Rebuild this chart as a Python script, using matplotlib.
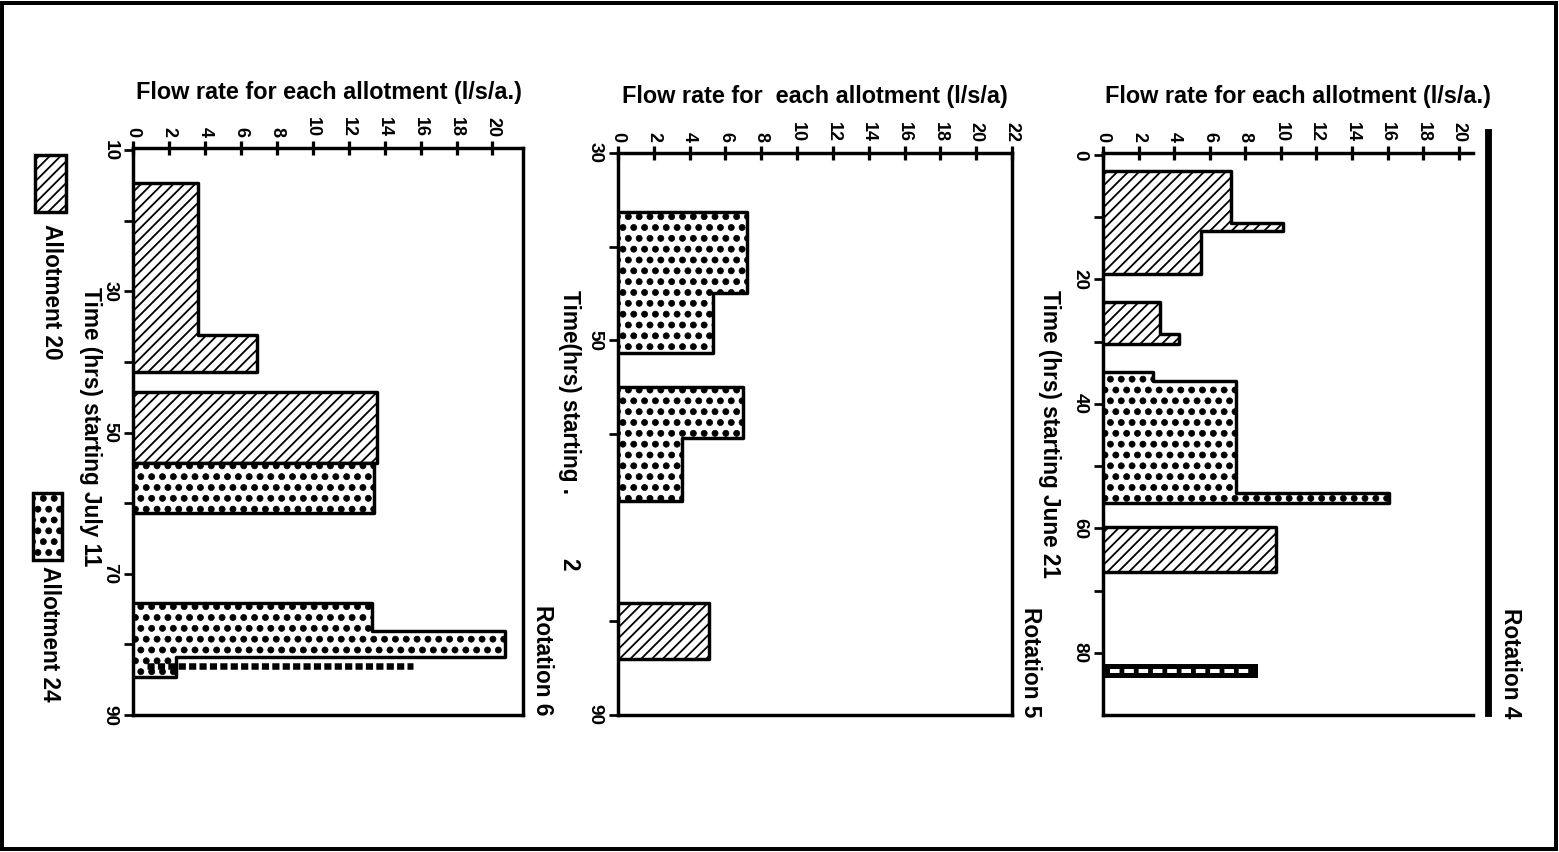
import matplotlib.pyplot as plt
import matplotlib.hatch as mhatch
from matplotlib.patches import Rectangle
from matplotlib.lines import Line2D

plt.rcParams['font.family'] = ['Liberation Sans', 'DejaVu Sans']
plt.rcParams['font.weight'] = 'bold'

# bigger solid dots for the '.' hatch, like the printed stipple
mhatch.SmallFilledCircles.size = 0.28

W, H, DPI = 1559, 852, 130

# Rotation 4 (time from June 21), blocks of step bars: time edges / flow per step
r4_a20_t = [[2.6, 10.9, 12.3, 19.2], [23.7, 28.8, 30.4], [59.8, 67.0]]
r4_a20_q = [[7.2, 10.1, 5.5], [3.2, 4.3], [9.7]]
r4_a24_t = [[34.9, 36.3, 54.4, 56.0]]
r4_a24_q = [[2.8, 7.5, 16.1]]
r4_dash_t = [82.9]
r4_dash_q = [8.7]

# Rotation 5
r5_a20_t = [[78.0, 84.0]]
r5_a20_q = [[5.1]]
r5_a24_t = [[36.3, 44.9, 51.3], [55.0, 60.4, 67.2]]
r5_a24_q = [[7.2, 5.3], [7.0, 3.6]]

# Rotation 6 (time from July 11)
r6_a20_t = [[14.7, 36.2, 41.4], [44.3, 54.3]]
r6_a20_q = [[3.6, 6.9], [13.6]]
r6_a24_t = [[54.3, 61.4], [74.2, 78.1, 81.8, 84.6]]
r6_a24_q = [[13.4], [13.3, 20.7, 2.4]]
r6_dash_t = 83.0
r6_dash_q = [0.8, 15.6]

flow_ticks_20 = list(range(0, 21, 2))
flow_ticks_22 = list(range(0, 23, 2))

HATCH_20 = '////'
HATCH_24 = '..'
HLW_20 = 1.0
HLW_24 = 0.4

fig = plt.figure(figsize=(W / DPI, H / DPI), dpi=DPI)


def px_axes(left, top, right, bottom):
    return fig.add_axes([left / W, 1 - bottom / H, (right - left) / W, (bottom - top) / H])


def fx(x):
    return x / W


def fy(y):
    return 1 - y / H


def setup(ax, xmax, xticks, ylim, yticks, ylabels):
    ax.set_xlim(0, xmax)
    ax.set_ylim(*ylim)
    ax.xaxis.tick_top()
    ax.set_xticks(xticks)
    ax.set_xticklabels([str(v) for v in xticks], rotation=-90, fontsize=10,
                       fontweight='bold')
    ax.tick_params(axis='x', direction='inout', length=8, width=1.8, pad=2)
    ax.set_yticks(yticks)
    ax.set_yticklabels(ylabels, rotation=-90, va='center', fontsize=10.5,
                       fontweight='bold')
    ax.tick_params(axis='y', direction='out', length=5, width=1.5, pad=3)
    for s in ax.spines.values():
        s.set_linewidth(1.9)


def set_hlw(artist, hlw):
    try:
        artist.set_hatch_linewidth(hlw)
    except AttributeError:
        pass


def draw_blocks(ax, ts, qs, hatch, hlw):
    for t, q in zip(ts, qs):
        poly = ax.fill_betweenx(t, 0, list(q) + [q[-1]], step='post',
                                facecolor='white', edgecolor='black',
                                linewidth=1.9, hatch=hatch, zorder=3)
        set_hlw(poly, hlw)


# ---- Rotation 6 ----
ax1 = px_axes(133, 148, 523, 715)
setup(ax1, 21.7, flow_ticks_20, (90, 9.7), [10, 20, 30, 40, 50, 60, 70, 80, 90],
      ['10', '', '30', '', '50', '', '70', '', '90'])
draw_blocks(ax1, r6_a20_t, r6_a20_q, HATCH_20, HLW_20)
draw_blocks(ax1, r6_a24_t, r6_a24_q, HATCH_24, HLW_24)
ax1.plot(r6_dash_q, [r6_dash_t, r6_dash_t], color='black', lw=3.6,
         linestyle=(0, (1.1, 0.5)), dash_capstyle='butt', zorder=4)

# ---- Rotation 5 ----
ax2 = px_axes(618, 153, 1012, 715)
setup(ax2, 22, flow_ticks_22, (90, 30), [30, 40, 50, 60, 80, 90],
      ['30', '', '50', '', '', '90'])
draw_blocks(ax2, r5_a24_t, r5_a24_q, HATCH_24, HLW_24)
draw_blocks(ax2, r5_a20_t, r5_a20_q, HATCH_20, HLW_20)

# ---- Rotation 4 ----
ax3 = px_axes(1103, 153, 1473, 715)
setup(ax3, 20.8, flow_ticks_20, (90, -0.3), [0, 10, 20, 30, 40, 50, 60, 70, 80],
      ['0', '', '20', '', '40', '', '60', '', '80'])
ax3.spines['right'].set_visible(False)
draw_blocks(ax3, r4_a20_t, r4_a20_q, HATCH_20, HLW_20)
draw_blocks(ax3, r4_a24_t, r4_a24_q, HATCH_24, HLW_24)
ax3.barh(r4_dash_t, r4_dash_q, height=2.2, color='black', zorder=3)
for t, q in zip(r4_dash_t, r4_dash_q):
    ax3.plot([0.4, q - 0.4], [t, t], color='white', lw=2.2,
             linestyle=(0, (2.4, 1.2)), zorder=4)
fig.add_artist(Line2D([fx(1488)] * 2, [fy(132), fy(713)], color='black', lw=3.8))

# ---- titles ----
title_kw = dict(fontsize=13, fontweight='bold', ha='center', va='center')
fig.text(fx(329), fy(92), 'Flow rate for each allotment (l/s/a.)', **title_kw)
fig.text(fx(815), fy(97), 'Flow rate for  each allotment (l/s/a)', **title_kw)
fig.text(fx(1298), fy(97), 'Flow rate for each allotment (l/s/a.)', **title_kw)

# ---- time labels ----
lab_kw = dict(rotation=-90, ha='center', va='top', fontsize=12.5, fontweight='bold')
fig.text(fx(90), fy(287), 'Time (hrs) starting July 11', **lab_kw)
fig.text(fx(570), fy(290), 'Time(hrs) starting .', **lab_kw)
fig.text(fx(569), fy(558), '2', **lab_kw)
fig.text(fx(1050), fy(290), 'Time (hrs) starting June 21', **lab_kw)

# ---- rotation labels ----
fig.text(fx(542), fy(605), 'Rotation 6', **lab_kw)
fig.text(fx(1030), fy(607), 'Rotation 5', **lab_kw)
fig.text(fx(1510), fy(608), 'Rotation 4', **lab_kw)

# ---- legend ----
leg20 = Rectangle((fx(35), fy(212)), 31 / W, 57 / H, transform=fig.transFigure,
                  facecolor='white', edgecolor='black', lw=1.9, hatch=HATCH_20)
leg24 = Rectangle((fx(33), fy(560)), 29 / W, 67 / H, transform=fig.transFigure,
                  facecolor='white', edgecolor='black', lw=1.9, hatch=HATCH_24)
for p, hlw in ((leg20, HLW_20), (leg24, HLW_24)):
    set_hlw(p, hlw)
    fig.add_artist(p)
fig.text(fx(51), fy(224), 'Allotment 20', **lab_kw)
fig.text(fx(49), fy(566), 'Allotment 24', **lab_kw)

# outer frame
fig.add_artist(Rectangle((fx(2), fy(849)), (W - 5) / W, (H - 6) / H,
                         transform=fig.transFigure, fill=False,
                         edgecolor='black', lw=2.2))

fig.savefig('out.png', dpi=DPI)
